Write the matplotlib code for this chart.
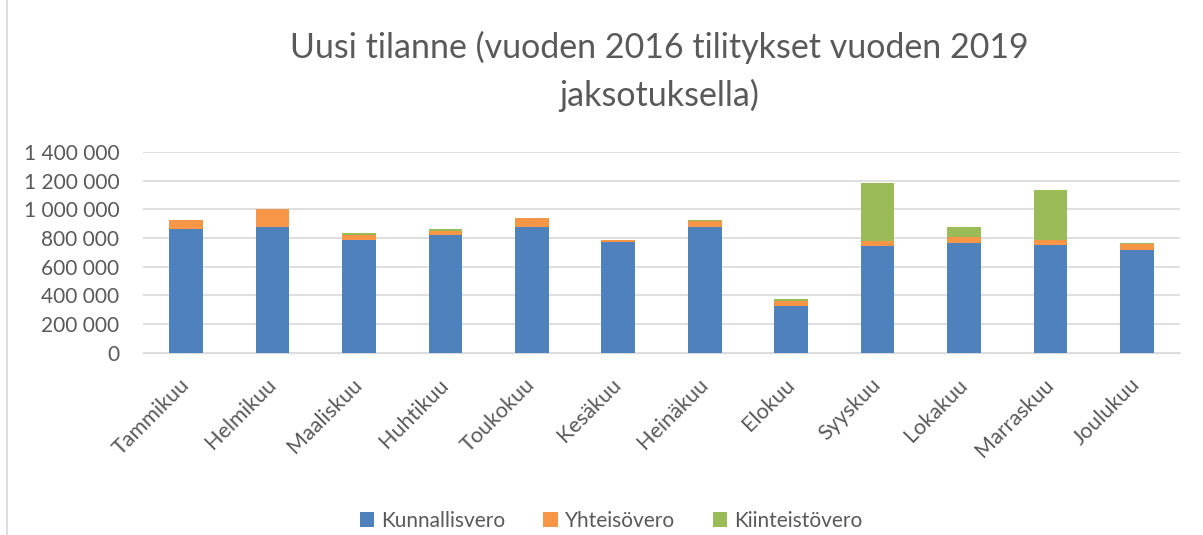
import numpy as np
import matplotlib.pyplot as plt
from matplotlib.patches import Rectangle
from matplotlib.ticker import FuncFormatter

months = ["Tammikuu", "Helmikuu", "Maaliskuu", "Huhtikuu", "Toukokuu", "Kesäkuu",
          "Heinäkuu", "Elokuu", "Syyskuu", "Lokakuu", "Marraskuu", "Joulukuu"]
kunnallisvero = [860000, 874000, 783000, 818000, 879000, 769000,
                 879000, 324000, 741000, 765000, 748000, 713000]
yhteisovero = [63000, 131000, 40000, 33000, 58000, 14000,
               42000, 40000, 38000, 42000, 40000, 42000]
kiinteistovero = [5000, 0, 9000, 14000, 5000, 5000,
                  4000, 14000, 403000, 72000, 345000, 7000]

plt.rcParams['font.family'] = ['Lato', 'DejaVu Sans']
grey = "#595959"

fig = plt.figure(figsize=(12.03, 5.35), dpi=100)
ax = fig.add_axes([143/1203, 1-352.7/535, (1180-143)/1203, (352.7-152)/535])

x = np.arange(len(months))
w = 0.39
k = np.array(kunnallisvero)
y = np.array(yhteisovero)
g = np.array(kiinteistovero)
ax.bar(x, k, w, color="#4f81bd", label="Kunnallisvero", zorder=3)
ax.bar(x, y, w, bottom=k, color="#f79646", label="Yhteisövero", zorder=3)
ax.bar(x, g, w, bottom=k + y, color="#9bbb59", label="Kiinteistövero", zorder=3)

ax.set_xlim(-0.5, len(months) - 0.5)
ax.set_ylim(0, 1400000)
ax.set_yticks(np.arange(0, 1400001, 200000))
ax.yaxis.set_major_formatter(FuncFormatter(lambda v, p: f"{int(v):,}".replace(",", " ")))
ax.grid(axis="y", color="#d9d9d9", linewidth=1.2, zorder=0)
for s in ["top", "right", "left"]:
    ax.spines[s].set_visible(False)
ax.spines["bottom"].set_color("#d9d9d9")
ax.tick_params(axis="both", length=0, colors=grey)
ax.tick_params(axis="y", pad=17, labelsize=15)
ax.set_xticks(x)
ax.set_xticklabels(months, rotation=45, ha="right", va="center", rotation_mode="anchor")
ax.tick_params(axis="x", pad=21, labelsize=15.5)

fig.text(0.548, 1-47/535, "Uusi tilanne (vuoden 2016 tilitykset vuoden 2019", ha="center",
         va="center", fontsize=24.5, color=grey)
fig.text(0.548, 1-95/535, "jaksotuksella)", ha="center", va="center", fontsize=24.5, color=grey)

fig.legend(loc="center", bbox_to_anchor=(0.508, 1-521/535), ncol=3, frameon=False,
           fontsize=15, handlelength=0.7, handleheight=0.7, columnspacing=1.8,
           handletextpad=0.35, labelcolor=grey)

fig.patches.append(Rectangle((7/1203, -0.1), 1.2, 1.2, transform=fig.transFigure,
                             fill=False, edgecolor="#d9d9d9", linewidth=1.2))

fig.savefig("out.png", dpi=100)
